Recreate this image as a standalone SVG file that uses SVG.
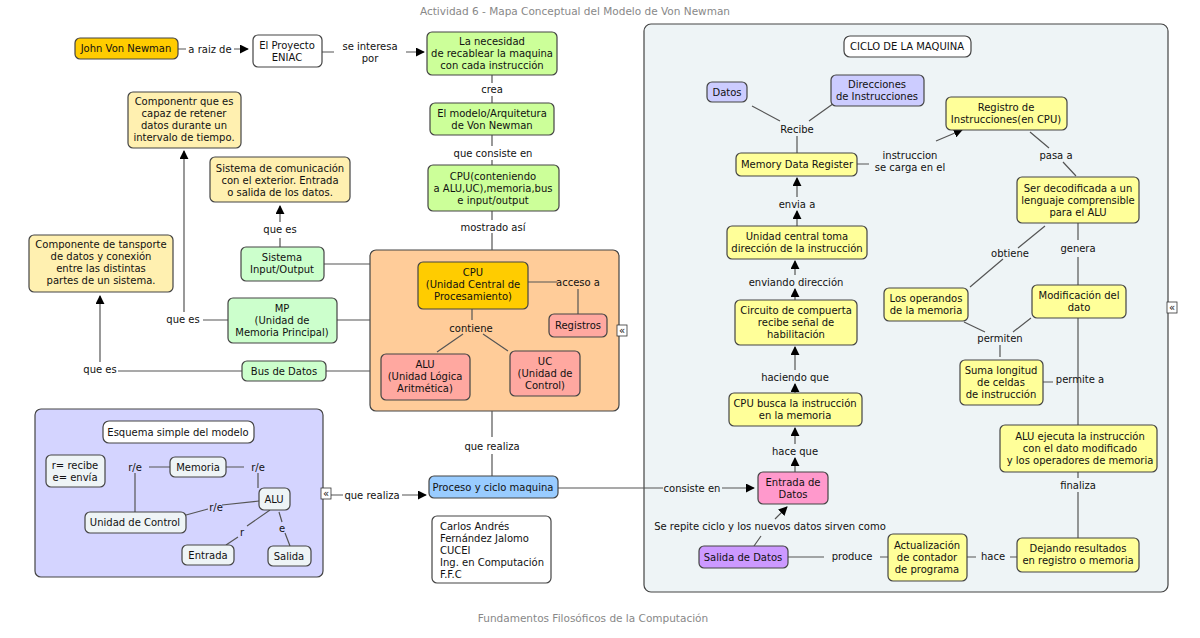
<svg xmlns="http://www.w3.org/2000/svg" width="1200" height="638" viewBox="0 0 1200 638">
<style>
text{font-family:"DejaVu Sans","Liberation Sans",sans-serif;font-size:10px;fill:#111;text-anchor:middle}
.t{fill:#888;font-size:10.5px}
.b{stroke:#444;stroke-width:1.2}
.l{stroke:#555;stroke-width:1.2;fill:none}
.lb{fill:#222}
.w{fill:#fff}.g{fill:#ccff99}.lg{fill:#ccffcc}.y{fill:#ffff99}.cy{fill:#fff0b0}.o{fill:#ffcc00}.pk{fill:#ffa8a0}.bl{fill:#99ccff}.lv{fill:#ccccff}.pu{fill:#cc99ff}.mg{fill:#ff99cc}.sg{fill:#eef4f6}
</style>
<defs>
<marker id="a" viewBox="0 0 10 10" refX="9" refY="5" markerWidth="9" markerHeight="9" orient="auto" markerUnits="userSpaceOnUse"><path d="M0,0L10,5L0,10z" fill="#000"/></marker>
</defs>
<text class="t" x="575" y="15">Actividad 6 - Mapa Conceptual del Modelo de Von Newman</text>
<text class="t" x="593" y="622">Fundamentos Filosóficos de la Computación</text>

<g id="panels">
<rect class="b sg" x="644" y="24" width="524" height="568" rx="7"/>
<rect class="b" fill="#ffcc99" x="370" y="250" width="249" height="161" rx="6"/>
<rect class="b" fill="#d4d4ff" x="35" y="409" width="288" height="168" rx="6"/>
</g>

<g id="connectors">
<path class="l" d="M178,49H186M234,49H248" marker-end="url(#a)"/>
<path class="l" d="M322,52H334M406,52H424" marker-end="url(#a)"/>
<path class="l" d="M492,75V83M492,96V103"/>
<path class="l" d="M492,135V146M492,160V165"/>
<path class="l" d="M492,211V220M492,233V250"/>
<path class="l" d="M528,282H557M578,289V314"/>
<path class="l" d="M472,309V320M463,334L437,352M483,334L508,351"/>
<path class="l" d="M280,247V238M280,222V206" marker-end="url(#a)"/>
<path class="l" d="M324,264H370M337,320H370M326,371H370"/>
<path class="l" d="M228,320H203M184,312V151" marker-end="url(#a)"/>
<path class="l" d="M242,371H118M100,362V296" marker-end="url(#a)"/>
<path class="l" d="M492,411V437M492,454V476"/>
<path class="l" d="M558,488H663M722,488H754" marker-end="url(#a)"/>
<path class="l" d="M331,495H343M402,495H426" marker-end="url(#a)"/>
<path class="l" d="M170,467H149M135,473V512M226,467H244M258,473V488M259,501L222,505M208,509L186,515M270,510L247,526M238,537L226,545M279,512L282,522M285,533L290,546"/>
<path class="l" d="M752,106L780,121M837,101L809,121M797,136V153"/>
<path class="l" d="M857,164H869M936,141L962,130" marker-end="url(#a)"/>
<path class="l" d="M1030,132L1049,148M1063,162L1076,176"/>
<path class="l" d="M1045,226L1018,248M1003,259L970,287M1078,223V240M1078,257V285"/>
<path class="l" d="M964,322L985,332M1013,332L1031,318M1000,345V357"/>
<path class="l" d="M1043,382H1053M1078,318V425"/>
<path class="l" d="M1078,472V478M1078,492V538"/>
<path class="l" d="M1017,557H1010M976,557H967M888,557H880M824,557H788"/>
<path class="l" d="M795,472V458" marker-end="url(#a)"/>
<path class="l" d="M795,444V428" marker-end="url(#a)"/>
<path class="l" d="M795,393V384" marker-end="url(#a)"/>
<path class="l" d="M795,370V347" marker-end="url(#a)"/>
<path class="l" d="M795,300V289" marker-end="url(#a)"/>
<path class="l" d="M795,275V261" marker-end="url(#a)"/>
<path class="l" d="M797,226V211" marker-end="url(#a)"/>
<path class="l" d="M797,197V178" marker-end="url(#a)"/>
<path class="l" d="M754,546L761,536M775,519L787,507" marker-end="url(#a)"/>
<g class="lb">
<text x="210" y="53">a raiz de</text>
<text x="370" y="50">se interesa</text><text x="370" y="62">por</text>
<text x="492" y="93">crea</text>
<text x="493" y="157">que consiste en</text>
<text x="493" y="231">mostrado así</text>
<text x="578" y="286">acceso a</text>
<text x="471" y="332">contiene</text>
<text x="280" y="233">que es</text>
<text x="183" y="323">que es</text>
<text x="100" y="373">que es</text>
<text x="492" y="450">que realiza</text>
<text x="372" y="499">que realiza</text>
<text x="692" y="492">consiste en</text>
<text x="135" y="471">r/e</text><text x="258" y="471">r/e</text><text x="216" y="511">r/e</text>
<text x="242" y="536">r</text><text x="282" y="532">e</text>
<text x="797" y="133">Recibe</text>
<text x="910" y="159">instruccion</text><text x="910" y="171">se carga en el</text>
<text x="1056" y="159">pasa a</text>
<text x="1010" y="257">obtiene</text>
<text x="1078" y="252">genera</text>
<text x="1000" y="342">permiten</text>
<text x="1080" y="383">permite a</text>
<text x="1078" y="489">finaliza</text>
<text x="993" y="560">hace</text>
<text x="852" y="560">produce</text>
<text x="770" y="530">Se repite ciclo y los nuevos datos sirven como</text>
<text x="795" y="455">hace que</text>
<text x="795" y="381">haciendo que</text>
<text x="796" y="286">enviando dirección</text>
<text x="797" y="208">envia a</text>
</g>
</g>

<g id="n1"><rect class="b o" x="75" y="38" width="103" height="21" rx="5"/><text x="126" y="52">John Von Newman</text></g>
<g id="n2"><rect class="b w" x="253" y="35" width="69" height="32" rx="5"/><text x="287" y="49">El Proyecto</text><text x="287" y="61">ENIAC</text></g>
<g id="n3"><rect class="b g" x="427" y="32" width="130" height="43" rx="5"/><text x="492" y="45">La necesidad</text><text x="492" y="57">de recablear la maquina</text><text x="492" y="69">con cada instrucción</text></g>
<g id="n4"><rect class="b g" x="430" y="103" width="124" height="32" rx="5"/><text x="492" y="117">El modelo/Arquitetura</text><text x="492" y="129">de Von Newman</text></g>
<g id="n5"><rect class="b g" x="428" y="165" width="131" height="46" rx="5"/><text x="493" y="180">CPU(conteniendo</text><text x="493" y="192">a ALU,UC),memoria,bus</text><text x="493" y="204">e input/output</text></g>
<g id="n6"><rect class="b o" x="418" y="262" width="110" height="47" rx="5"/><text x="473" y="276">CPU</text><text x="473" y="288">(Unidad Central de</text><text x="473" y="300">Procesamiento)</text></g>
<g id="n7"><rect class="b pk" x="549" y="314" width="58" height="23" rx="5"/><text x="578" y="329">Registros</text></g>
<g id="n8"><rect class="b pk" x="381" y="354" width="89" height="46" rx="5"/><text x="425" y="368">ALU</text><text x="425" y="380">(Unidad Lógica</text><text x="425" y="392">Aritmética)</text></g>
<g id="n9"><rect class="b pk" x="510" y="351" width="70" height="45" rx="5"/><text x="545" y="365">UC</text><text x="545" y="377">(Unidad de</text><text x="545" y="389">Control)</text></g>
<g id="n10"><rect class="b cy" x="128" y="92" width="113" height="56" rx="5"/><text x="184" y="105">Componentr que es</text><text x="184" y="117">capaz de retener</text><text x="184" y="129">datos durante un</text><text x="184" y="141">intervalo de tiempo.</text></g>
<g id="n11"><rect class="b cy" x="210" y="157" width="140" height="45" rx="5"/><text x="280" y="172">Sistema de comunicación</text><text x="280" y="184">con el exterior. Entrada</text><text x="280" y="196">o salida de los datos.</text></g>
<g id="n12"><rect class="b lg" x="241" y="247" width="83" height="34" rx="5"/><text x="282" y="261">Sistema</text><text x="282" y="273">Input/Output</text></g>
<g id="n13"><rect class="b cy" x="29" y="235" width="144" height="57" rx="5"/><text x="101" y="248">Componente de tansporte</text><text x="101" y="260">de datos y conexión</text><text x="101" y="272">entre las distintas</text><text x="101" y="284">partes de un sistema.</text></g>
<g id="n14"><rect class="b lg" x="228" y="298" width="109" height="45" rx="5"/><text x="282" y="312">MP</text><text x="282" y="324">(Unidad de</text><text x="282" y="336">Memoria Principal)</text></g>
<g id="n15"><rect class="b lg" x="242" y="361" width="84" height="20" rx="5"/><text x="284" y="375">Bus de Datos</text></g>
<g id="n16"><rect class="b w" x="103" y="421" width="151" height="22" rx="6"/><text x="178" y="436">Esquema simple del modelo</text></g>
<g id="n17"><rect class="b" fill="#eef4f6" x="46" y="455" width="59" height="32" rx="5"/><text x="75" y="469">r= recibe</text><text x="75" y="481">e= envía</text></g>
<g id="n18"><rect class="b" fill="#eef4f6" x="170" y="457" width="56" height="20" rx="5"/><text x="198" y="471">Memoria</text></g>
<g id="n19"><rect class="b" fill="#eef4f6" x="259" y="488" width="31" height="22" rx="5"/><text x="274" y="503">ALU</text></g>
<g id="n20"><rect class="b" fill="#eef4f6" x="85" y="512" width="101" height="21" rx="5"/><text x="135" y="526">Unidad de Control</text></g>
<g id="n21"><rect class="b" fill="#eef4f6" x="182" y="545" width="52" height="20" rx="5"/><text x="208" y="559">Entrada</text></g>
<g id="n22"><rect class="b" fill="#eef4f6" x="268" y="546" width="43" height="20" rx="5"/><text x="289" y="560">Salida</text></g>
<g id="n23"><rect class="b bl" x="429" y="476" width="129" height="22" rx="5"/><text x="493" y="491">Proceso y ciclo maquina</text></g>
<g id="n24"><rect class="b w" x="432" y="516" width="119" height="67" rx="5"/><text style="text-anchor:start" x="440" y="530">Carlos Andrés</text><text style="text-anchor:start" x="440" y="542">Fernández Jalomo</text><text style="text-anchor:start" x="440" y="554">CUCEI</text><text style="text-anchor:start" x="440" y="566">Ing. en Computación</text><text style="text-anchor:start" x="440" y="578">F.F.C</text></g>
<g id="n25"><rect class="b mg" x="758" y="472" width="70" height="32" rx="5"/><text x="793" y="486">Entrada de</text><text x="793" y="498">Datos</text></g>
<g id="n26"><rect class="b w" x="844" y="36" width="127" height="21" rx="6"/><text x="907" y="50">CICLO DE LA MAQUINA</text></g>
<g id="n27"><rect class="b lv" x="707" y="82" width="40" height="20" rx="5"/><text x="727" y="96">Datos</text></g>
<g id="n28"><rect class="b lv" x="831" y="75" width="93" height="31" rx="5"/><text x="877" y="88">Direcciones</text><text x="877" y="100">de Instrucciones</text></g>
<g id="n29"><rect class="b y" x="736" y="153" width="121" height="23" rx="5"/><text x="797" y="168">Memory Data Register</text></g>
<g id="n30"><rect class="b y" x="946" y="97" width="121" height="33" rx="5"/><text x="1006" y="111">Registro de</text><text x="1006" y="123">Instrucciones(en CPU)</text></g>
<g id="n31"><rect class="b y" x="1017" y="177" width="122" height="46" rx="5"/><text x="1078" y="192">Ser decodificada a un</text><text x="1078" y="204">lenguaje comprensible</text><text x="1078" y="216">para el ALU</text></g>
<g id="n32"><rect class="b y" x="884" y="288" width="84" height="33" rx="5"/><text x="926" y="302">Los operandos</text><text x="926" y="314">de la memoria</text></g>
<g id="n33"><rect class="b y" x="1032" y="285" width="94" height="33" rx="5"/><text x="1079" y="299">Modificación del</text><text x="1079" y="311">dato</text></g>
<g id="n34"><rect class="b y" x="960" y="360" width="83" height="45" rx="5"/><text x="1001" y="374">Suma longitud</text><text x="1001" y="386">de celdas</text><text x="1001" y="398">de instrucción</text></g>
<g id="n35"><rect class="b y" x="1000" y="425" width="157" height="47" rx="5"/><text x="1080" y="440">ALU ejecuta la instrucción</text><text x="1080" y="452">con el dato modificado</text><text x="1080" y="464">y los operadores de memoria</text></g>
<g id="n36"><rect class="b y" x="1017" y="538" width="122" height="34" rx="5"/><text x="1078" y="552">Dejando resultados</text><text x="1078" y="564">en registro o memoria</text></g>
<g id="n37"><rect class="b y" x="888" y="534" width="79" height="47" rx="5"/><text x="927" y="549">Actualización</text><text x="927" y="561">de contador</text><text x="927" y="573">de programa</text></g>
<g id="n38"><rect class="b pu" x="699" y="546" width="89" height="22" rx="5"/><text x="743" y="561">Salida de Datos</text></g>
<g id="n39"><rect class="b y" x="729" y="393" width="133" height="33" rx="5"/><text x="795" y="407">CPU busca la instrucción</text><text x="795" y="419">en la memoria</text></g>
<g id="n40"><rect class="b y" x="735" y="300" width="122" height="45" rx="5"/><text x="796" y="314">Circuito de compuerta</text><text x="796" y="326">recibe señal de</text><text x="796" y="338">habilitación</text></g>
<g id="n41"><rect class="b y" x="727" y="226" width="140" height="33" rx="5"/><text x="797" y="240">Unidad central toma</text><text x="797" y="252">dirección de la instrucción</text></g>

<g id="icons" style="font-size:10px">
<rect x="617" y="325" width="10" height="11" fill="#fff" stroke="#333" stroke-width="0.8"/><text x="622" y="334">«</text>
<rect x="321" y="488" width="10" height="11" fill="#fff" stroke="#333" stroke-width="0.8"/><text x="326" y="497">«</text>
<rect x="1167" y="302" width="10" height="11" fill="#fff" stroke="#333" stroke-width="0.8"/><text x="1172" y="311">«</text>
</g>
</svg>
